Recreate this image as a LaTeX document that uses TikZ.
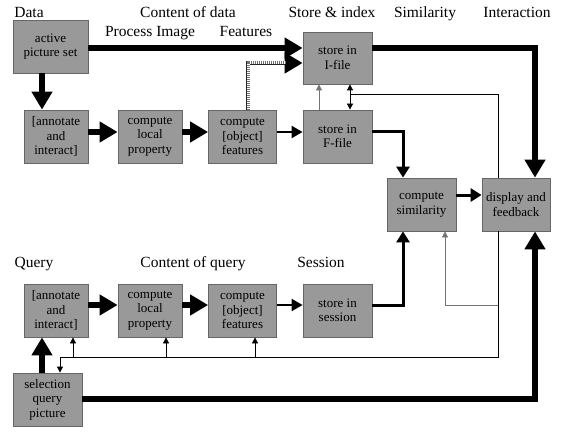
\documentclass[tikz,border=0pt]{standalone}
\usepackage{fontspec}
\setmainfont{Liberation Serif}
\usetikzlibrary{arrows.meta}
\begin{document}
\begin{tikzpicture}[x=1pt,y=-1pt,
  box/.style={draw=black!60, line width=0.8pt, fill=black!40, minimum width=#1, minimum height=53pt,
    inner sep=1pt, align=center, font=\fontsize{13}{14.5}\selectfont},
  box/.default=64pt,
  hdr/.style={anchor=base, font=\fontsize{15.5}{18}\selectfont},
  thk/.style={line width=5.5pt, -{Triangle[length=18pt,width=20pt]}},
  mid/.style={line width=3pt, -{Triangle[length=11pt,width=13pt]}},
  med/.style={line width=2pt, -{Triangle[length=11pt,width=12pt]}},
  thn/.style={line width=0.8pt},
  smallarr/.style={-{Triangle[length=6pt,width=6pt]}},
  gry/.style={draw=black!55}
]
\useasboundingbox (0,0) rectangle (567,433);

% boxes
\node[box=75pt] (aps) at (50.5,46.5) {active\\picture set};
\node[box] (ann1) at (56,136.5) {[annotate\\and\\interact]};
\node[box] (loc1) at (150,136.5) {compute\\local\\property};
\node[box=68pt] (obj1) at (242.5,136.5) {compute\\{[object]}\\features};
\node[box=69pt, minimum height=52pt] (ifile) at (337.5,58) {store in\\I-file};
\node[box=69pt] (ffile) at (337.5,136.5) {store in\\F-file};
\node[box=69pt] (sim) at (421.5,204.5) {compute\\similarity};
\node[box=68pt] (disp) at (516,204.5) {display and\\feedback};
\node[box] (ann2) at (56,310.5) {[annotate\\and\\interact]};
\node[box] (loc2) at (150,310.5) {compute\\local\\property};
\node[box=68pt] (obj2) at (242.5,310.5) {compute\\{[object]}\\features};
\node[box=69pt] (sess) at (337.5,310.5) {store in\\session};
\node[box=69pt] (sel) at (47.5,399.5) {selection\\query\\picture};

% headers
\node[hdr] (h1) at (29,18) {Data};
\node[hdr] (h2) at (188,18) {Content of data};
\node[hdr] (h3) at (150,37) {Process Image};
\node[hdr] (h4) at (246,37) {Features};
\node[hdr] (h5) at (332,18) {Store \& index};
\node[hdr] (h6) at (425,18) {Similarity};
\node[hdr] (h7) at (517,18) {Interaction};
\node[hdr] (h8) at (34,267) {Query};
\node[hdr] (h9) at (193,267) {Content of query};
\node[hdr] (h10) at (321,267) {Session};

% junction coordinates
\coordinate (jf) at (350,94);
\coordinate (jq) at (60,357);
\coordinate (q1) at (73,357);
\coordinate (q2) at (166,357);
\coordinate (q3) at (255,357);
\coordinate (jd) at (498,305);

% data row
\draw[thk] (aps.east |- 0,48) -- (ifile.west |- 0,48);
\draw[thk] (ifile.east |- 0,48) -| (disp.north -| 535,0);
\draw[line width=4.6pt, black!85, -{Triangle[length=18pt,width=20pt,color=black]}] (obj1.north -| 248,0) |- (ifile.west |- 0,63);
\draw[line width=3pt, white, shorten >=17pt] (obj1.north -| 248,0) |- (ifile.west |- 0,63);
\draw[line width=3pt, black!55, dash pattern=on 1pt off 1pt, shorten >=17pt] (obj1.north -| 248,0) |- (ifile.west |- 0,63);
\draw[thk] (aps.south -| 42,0) -- (ann1.north -| 42,0);
\draw[thk] (ann1.east |- 0,132) -- (loc1.west |- 0,132);
\draw[thk] (loc1.east |- 0,132) -- (obj1.west |- 0,132);
\draw[med] (obj1.east |- 0,132) -- (ffile.west |- 0,132);
\draw[mid] (ffile.east |- 0,131) -| (sim.north -| 403,0);
\draw[mid] (sim.east |- 0,195) -- (disp.west |- 0,195);
\draw[thn, gry, smallarr] (ffile.north -| 319,0) -- (ifile.south -| 319,0);
\draw[thn, {Triangle[length=6pt,width=6pt]}-{Triangle[length=6pt,width=6pt]}] (ifile.south -| 350,0) -- (ffile.north -| 350,0);
\draw[thn] (disp.north -| 498,0) |- (jf);

% feedback loops
\draw[thn, smallarr] (disp.south -| 498,0) |- (jq) -- (sel.north -| jq);
\draw[thn, smallarr] (q1) -- (ann2.south -| q1);
\draw[thn, smallarr] (q2) -- (loc2.south -| q2);
\draw[thn, smallarr] (q3) -- (obj2.south -| q3);
\draw[thn, gry, smallarr] (jd) -| (sim.south -| 445,0);

% query row
\draw[thk] (ann2.east |- 0,305) -- (loc2.west |- 0,305);
\draw[thk] (loc2.east |- 0,305) -- (obj2.west |- 0,305);
\draw[med] (obj2.east |- 0,305) -- (sess.west |- 0,305);
\draw[mid] (sess.east |- 0,305) -| (sim.south -| 403,0);
\draw[thk] (sel.north -| 42,0) -- (ann2.south -| 42,0);
\draw[thk] (sel.east |- 0,399) -| (disp.south -| 535,0);
\end{tikzpicture}
\end{document}
